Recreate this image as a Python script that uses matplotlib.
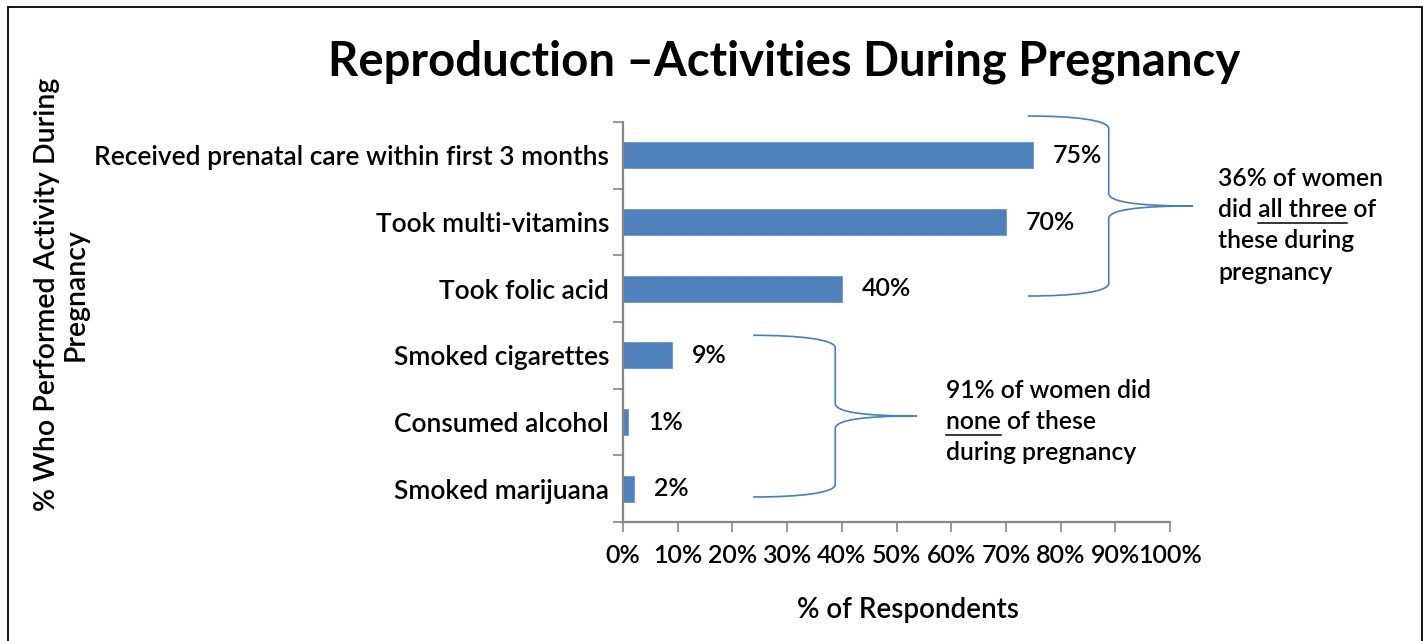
import matplotlib
matplotlib.use("Agg")
import matplotlib.pyplot as plt
from matplotlib.path import Path
from matplotlib.patches import PathPatch, Rectangle
from matplotlib.lines import Line2D

plt.rcParams['font.family'] = ['Lato', 'DejaVu Sans']
plt.rcParams['font.weight'] = 'semibold'

# survey results, top to bottom
activities = ["Received prenatal care within first 3 months", "Took multi-vitamins",
              "Took folic acid", "Smoked cigarettes", "Consumed alcohol", "Smoked marijuana"]
percent = [75, 70, 40, 9, 1, 2]
xticks = [0, 10, 20, 30, 40, 50, 60, 70, 80, 90, 100]

bar_color = "#4F81BD"
brace_color = "#4A7EBB"
axis_color = "#868686"

fig = plt.figure(figsize=(14.26, 6.41), dpi=100)
ax = fig.add_axes([623 / 1426, 1 - 522 / 641, 547 / 1426, 400 / 641])

ypos = list(range(len(activities)))
ax.barh(ypos, percent, height=0.39, color=bar_color, edgecolor="#6A96CB", linewidth=0.6)
for y, v in zip(ypos, percent):
    ax.text(v + 3.6, y, f"{v}%", va="center", ha="left", fontsize=18)

ax.set_xlim(0, 100)
ax.set_ylim(len(activities) - 0.5, -0.5)
ax.set_xticks(xticks)
ax.set_xticklabels([f"{t}%" for t in xticks], fontsize=18)
ax.set_yticks(ypos)
ax.set_yticklabels(activities, fontsize=19)
ax.set_yticks([i - 0.5 for i in range(len(activities) + 1)], minor=True)
ax.tick_params(axis="y", which="major", length=0, pad=10)
ax.tick_params(axis="y", which="minor", length=7, width=1.2, color=axis_color, direction="out")
ax.tick_params(axis="x", length=7, width=1.2, color=axis_color, direction="out", pad=9)
for side in ["top", "right"]:
    ax.spines[side].set_visible(False)
for side in ["left", "bottom"]:
    ax.spines[side].set_color(axis_color)
    ax.spines[side].set_linewidth(1.6)

fig.text(0.55, 0.903, "Reproduction \u2013Activities During Pregnancy",
         ha="center", va="center", fontsize=34, fontweight="bold")
fig.text(0.637, 0.048, "% of Respondents", ha="center", va="center", fontsize=20)
fig.text(0.043, 0.54, "% Who Performed Activity During\nPregnancy", rotation=90,
         ha="center", va="center", multialignment="center", fontsize=20.5, linespacing=1.12)


def brace(x0, xv, xt, yt, ym, yb, r=0.19):
    a = x0 + 0.55 * (xv - x0)
    b = xv + 0.35 * (xt - xv)
    verts = [(x0, yt), (a, yt), (xv, yt + 0.3 * r), (xv, yt + r),
             (xv, ym - r),
             (xv, ym - 0.3 * r), (b, ym), (xt, ym),
             (b, ym), (xv, ym + 0.3 * r), (xv, ym + r),
             (xv, yb - r),
             (xv, yb - 0.3 * r), (a, yb), (x0, yb)]
    codes = [Path.MOVETO, Path.CURVE4, Path.CURVE4, Path.CURVE4,
             Path.LINETO,
             Path.CURVE4, Path.CURVE4, Path.CURVE4,
             Path.CURVE4, Path.CURVE4, Path.CURVE4,
             Path.LINETO,
             Path.CURVE4, Path.CURVE4, Path.CURVE4]
    ax.add_patch(PathPatch(Path(verts, codes), fill=False, edgecolor=brace_color,
                           linewidth=1.2, clip_on=False))


brace(74.0, 88.8, 104.2, -0.59, 0.76, 2.11)
brace(23.8, 38.8, 53.7, 2.70, 3.91, 5.125)

renderer = fig.canvas.get_renderer()


def note(x, y, lines, underline, size=17.8, step=31.5):
    # lines of text in figure pixels, with one underlined word group
    line_no, word = underline
    for i, line in enumerate(lines):
        fig.text(x / 1426, 1 - (y + i * step) / 641, line, ha="left", va="center",
                 fontsize=size)
        if i == line_no:
            start = line.index(word)
            pre = fig.text(0, 0, line[:start], fontsize=size)
            full = fig.text(0, 0, line[:start + len(word)], fontsize=size)
            x1 = x + (pre.get_window_extent(renderer).width if start else 0)
            x2 = x + full.get_window_extent(renderer).width
            pre.remove()
            full.remove()
            uy = 1 - (y + i * step + 13) / 641
            fig.add_artist(Line2D([x1 / 1426, x2 / 1426], [uy, uy], color="black",
                                  linewidth=1.1, transform=fig.transFigure))


note(1218, 178, ["36% of women", "did all three of", "these during", "pregnancy"], (1, "all three"))
note(946, 390, ["91% of women did", "none of these", "during pregnancy"], (1, "none"))

fig.add_artist(Rectangle((8 / 1426, -0.05), 1414 / 1426, 1.05 - 7 / 641, fill=False,
                         edgecolor="black", linewidth=1.3, transform=fig.transFigure))

fig.savefig("out.png", dpi=100)
